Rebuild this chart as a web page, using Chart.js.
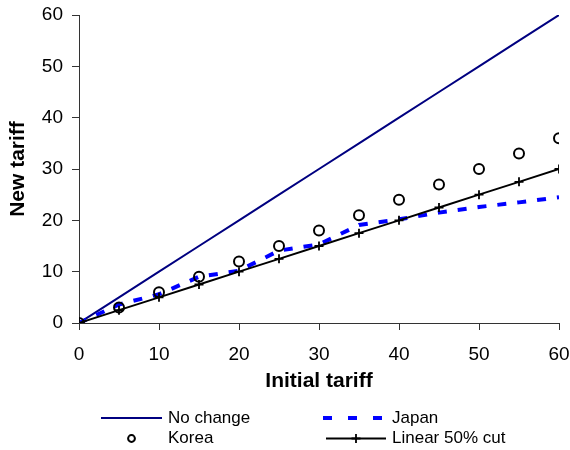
<!DOCTYPE html>
<html>
<head>
<meta charset="utf-8">
<script src="https://cdn.jsdelivr.net/npm/chart.js@4/dist/chart.umd.min.js"></script>
<style>
  html, body { margin: 0; padding: 0; background: #ffffff; }
  #wrap { width: 570px; height: 450px; }
</style>
</head>
<body>
<div id="wrap"><canvas id="c" width="570" height="450"></canvas></div>
<script>
// Initial tariff levels (x) and the resulting new tariff under each scheme (y)
const initialTariff = [0, 5, 10, 15, 20, 25, 30, 35, 40, 45, 50, 55, 60];
const noChange      = [0, 5, 10, 15, 20, 25, 30, 35, 40, 45, 50, 55, 60];
const japan         = [0, 3.6, 5.6, 9.0, 10.2, 14.1, 15.3, 19.1, 20.2, 21.5, 22.6, 23.5, 24.5];
const korea         = [0, 3, 6, 9, 12, 15, 18, 21, 24, 27, 30, 33, 36];
const linearCut     = [0, 2.5, 5, 7.5, 10, 12.5, 15, 17.5, 20, 22.5, 25, 27.5, 30];

const xTickValues = [0, 10, 20, 30, 40, 50, 60];
const yTickValues = [0, 10, 20, 30, 40, 50, 60];

const seriesNames = ['No change', 'Japan', 'Korea', 'Linear 50% cut'];

const pts = ys => initialTariff.map((x, i) => ({ x: x, y: ys[i] }));

const FONT = '"Liberation Sans", Arial, Helvetica, sans-serif';

// Two-column legend below the axes, drawn with each dataset's own styling
const pairedLegend = {
  id: 'pairedLegend',
  afterDraw(chart) {
    const ctx = chart.ctx;
    const ds = chart.data.datasets;
    const cells = [
      { i: 0, x0: 101, x1: 162, y: 418 },
      { i: 1, x0: 323, x1: 386, y: 418 },
      { i: 2, x0: 101, x1: 162, y: 438.5 },
      { i: 3, x0: 326, x1: 386, y: 438.5 }
    ];
    ctx.save();
    cells.forEach(c => {
      const d = ds[c.i];
      const mid = (c.x0 + c.x1) / 2;
      if (d.showLine !== false) {
        ctx.beginPath();
        ctx.strokeStyle = d.borderColor;
        ctx.lineWidth = d.borderWidth;
        ctx.setLineDash(d.legendDash || []);
        ctx.lineCap = 'butt';
        ctx.moveTo(c.x0, c.y);
        ctx.lineTo(c.x1, c.y);
        ctx.stroke();
        ctx.setLineDash([]);
      }
      if (d.pointRadius > 0) {
        ctx.strokeStyle = d.pointBorderColor;
        ctx.fillStyle = d.pointBackgroundColor;
        ctx.lineWidth = d.pointBorderWidth;
        Chart.helpers.drawPoint(ctx, {
          pointStyle: d.pointStyle,
          radius: d.legendPointRadius || d.pointRadius,
          borderWidth: d.pointBorderWidth,
          rotation: 0
        }, mid, c.y);
      }
      ctx.fillStyle = '#000';
      ctx.font = '17px ' + FONT;
      ctx.textBaseline = 'middle';
      ctx.textAlign = 'left';
      ctx.fillText(d.label, c.x1 + 6, c.y);
    });
    ctx.restore();
  }
};

new Chart(document.getElementById('c'), {
  type: 'line',
  data: {
    datasets: [
      {
        label: seriesNames[0],
        data: pts(noChange),
        borderColor: '#000080',
        borderWidth: 2,
        pointRadius: 0,
        order: 4
      },
      {
        label: seriesNames[1],
        data: pts(japan),
        borderColor: '#0000ff',
        borderWidth: 4,
        borderDash: [9, 11],
        borderDashOffset: 1,
        legendDash: [9, 16],
        borderCapStyle: 'butt',
        pointRadius: 0,
        order: 3
      },
      {
        label: seriesNames[2],
        data: pts(korea),
        showLine: false,
        borderColor: '#000000',
        pointStyle: 'circle',
        pointRadius: 5,
        legendPointRadius: 3.4,
        pointBorderWidth: 2,
        pointBorderColor: '#000000',
        pointBackgroundColor: 'rgba(0,0,0,0)',
        order: 1
      },
      {
        label: seriesNames[3],
        data: pts(linearCut),
        borderColor: '#000000',
        borderWidth: 2,
        pointStyle: 'cross',
        pointRadius: 4.5,
        pointBorderWidth: 1.8,
        pointBorderColor: '#000000',
        pointBackgroundColor: '#000000',
        order: 2
      }
    ]
  },
  options: {
    responsive: false,
    devicePixelRatio: 1,
    animation: false,
    events: [],
    layout: { padding: { left: 0, right: 11, top: 15, bottom: 50 } },
    plugins: {
      legend: { display: false },
      tooltip: { enabled: false }
    },
    scales: {
      x: {
        type: 'linear',
        min: 0,
        max: 60,
        afterBuildTicks: s => { s.ticks = xTickValues.map(v => ({ value: v })); },
        afterFit: s => { s.height = 77; s.paddingLeft = 0; s.paddingRight = 0; },
        border: { display: true, color: '#333333', width: 1 },
        grid: { display: true, drawOnChartArea: false, drawTicks: true, tickLength: 7, color: '#333333' },
        ticks: { color: '#000', font: { family: FONT, size: 19 }, padding: 13, maxRotation: 0 },
        title: {
          display: true,
          text: 'Initial tariff',
          color: '#000',
          font: { family: FONT, size: 21, weight: 'bold' },
          padding: { top: 0, bottom: 6 }
        }
      },
      y: {
        type: 'linear',
        min: 0,
        max: 60,
        afterBuildTicks: s => { s.ticks = yTickValues.map(v => ({ value: v })); },
        afterFit: s => { s.width = 79; s.paddingTop = 0; s.paddingBottom = 0; },
        border: { display: true, color: '#333333', width: 1 },
        grid: { display: true, drawOnChartArea: false, drawTicks: true, tickLength: 7, color: '#333333' },
        ticks: { color: '#000', font: { family: FONT, size: 19 }, padding: 9 },
        title: {
          display: true,
          text: 'New tariff',
          color: '#000',
          font: { family: FONT, size: 21, weight: 'bold' },
          padding: { top: 6, bottom: 0 }
        }
      }
    }
  },
  plugins: [pairedLegend]
});
</script>
</body>
</html>
